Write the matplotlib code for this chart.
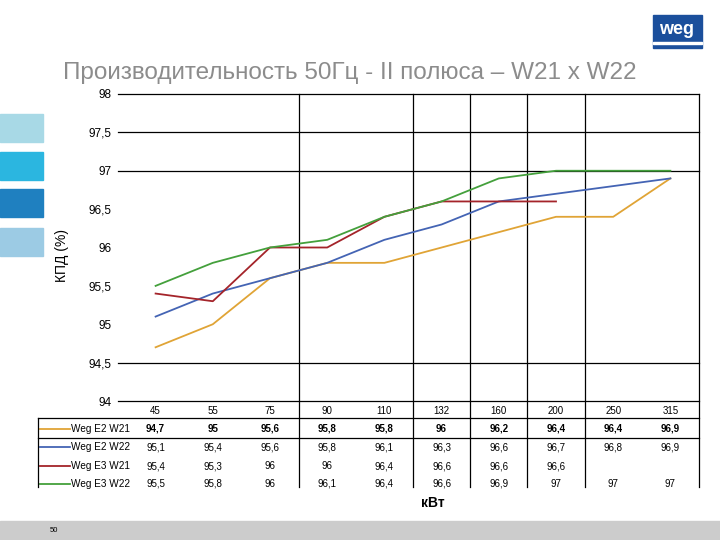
import matplotlib.pyplot as plt
from matplotlib.patches import Rectangle

# data
power_kw = ['45', '55', '75', '90', '110', '132', '160', '200', '250', '315']
e2_w21 = [94.7, 95.0, 95.6, 95.8, 95.8, 96.0, 96.2, 96.4, 96.4, 96.9]
e2_w22 = [95.1, 95.4, 95.6, 95.8, 96.1, 96.3, 96.6, 96.7, 96.8, 96.9]
e3_w21 = [95.4, 95.3, 96.0, 96.0, 96.4, 96.6, 96.6, 96.6]
e3_w22 = [95.5, 95.8, 96.0, 96.1, 96.4, 96.6, 96.9, 97.0, 97.0, 97.0]
series_names = ['Weg E2 W21', 'Weg E2 W22', 'Weg E3 W21', 'Weg E3 W22']
series_colors = ['#E0A436', '#4464B4', '#A4242A', '#44A03C']
y_ticks = [94, 94.5, 95, 95.5, 96, 96.5, 97, 97.5, 98]

plt.rcParams['font.family'] = ['Liberation Sans', 'DejaVu Sans']

fig = plt.figure(figsize=(7.2, 5.4), dpi=100)
W, H = 720, 540
ax = fig.add_axes([127 / W, 1 - 401 / H, (699 - 127) / W, (401 - 94) / H])

all_series = [e2_w21, e2_w22, e3_w21, e3_w22]
for vals, c in zip(all_series, series_colors):
    ax.plot(range(len(vals)), vals, color=c, lw=1.3, zorder=3)

ax.set_xlim(-0.5, len(power_kw) - 0.5)
ax.set_ylim(94, 98)
ax.set_yticks(y_ticks)
ax.set_yticklabels([('%g' % v).replace('.', ',') for v in y_ticks], fontsize=8.5)
ax.set_xticks([])
ax.tick_params(axis='y', length=0, pad=11)
for s in ax.spines.values():
    s.set_visible(False)

# grid as in the original (only some lines visible)
for yv in [98, 97.5, 97, 94.5, 94]:
    ax.axhline(yv, xmin=-0.016, xmax=1, color='black', lw=0.9, clip_on=False, zorder=2)
for xv in [2.5, 4.5, 5.5, 6.5, 7.5, 9.5]:
    ax.axvline(xv, ymin=-0.28, ymax=1, color='black', lw=0.9, clip_on=False, zorder=2)

# data table below the axis
row_y = [-0.0326, -0.0912, -0.150, -0.212, -0.270]
for i, lab in enumerate(power_kw):
    ax.text(i, row_y[0], lab, ha='center', va='center', fontsize=7,
            transform=ax.get_xaxis_transform(), clip_on=False)
for r, (vals, name, c) in enumerate(zip(all_series, series_names, series_colors)):
    yy = row_y[r + 1]
    for i, v in enumerate(vals):
        ax.text(i, yy, ('%g' % v).replace('.', ','), ha='center', va='center',
                fontsize=7, fontweight='bold' if r == 0 else 'normal',
                transform=ax.get_xaxis_transform(), clip_on=False)
    ypix = 401 - yy * 307
    fig.lines.append(plt.Line2D([40 / W, 70 / W], [1 - ypix / H] * 2, color=c, lw=1.3,
                                transform=fig.transFigure))
    fig.text(71 / W, 1 - ypix / H, name, ha='left', va='center', fontsize=7.2)

# table borders
for ypix in [418, 438]:
    fig.lines.append(plt.Line2D([38 / W, 699 / W], [1 - ypix / H] * 2, color='black', lw=0.9,
                                transform=fig.transFigure))
fig.lines.append(plt.Line2D([38 / W, 38 / W], [1 - 418 / H, 1 - 487 / H], color='black', lw=0.9,
                            transform=fig.transFigure))

# titles and labels
fig.text(350 / W, 1 - 73 / H, 'Производительность 50Гц - II полюса – W21 x W22',
         ha='center', va='center', fontsize=17.5, color='#8C8C8C')
fig.text(62 / W, 1 - 256 / H, 'КПД (%)', rotation=90, ha='center', va='center', fontsize=10)
fig.text(433 / W, 1 - 503 / H, 'кВт', ha='center', va='center', fontsize=10, fontweight='bold')

# left decorative boxes
for y0, col in [(114, '#A8D9E6'), (152, '#2BB6E0'), (189, '#1F80C0'), (228, '#9CCBE4')]:
    fig.patches.append(Rectangle((0, 1 - (y0 + 28) / H), 43 / W, 28 / H, color=col,
                                 transform=fig.transFigure))

# bottom bar
fig.patches.append(Rectangle((0, 0), 1, 19 / H, color='#CCCCCC', transform=fig.transFigure))
fig.text(50 / W, 1 - 531 / H, '50', ha='left', va='center', fontsize=5.5)

# logo
fig.patches.append(Rectangle((653 / W, 1 - 48 / H), 49 / W, 33 / H, color='#1B4F9C',
                             transform=fig.transFigure))
fig.patches.append(Rectangle((653 / W, 1 - 44 / H), 49 / W, 2 / H, color='white',
                             transform=fig.transFigure))
fig.text(677 / W, 1 - 29 / H, 'weg', ha='center', va='center', fontsize=13,
         fontweight='bold', color='white')

fig.savefig('out.png', dpi=100)
